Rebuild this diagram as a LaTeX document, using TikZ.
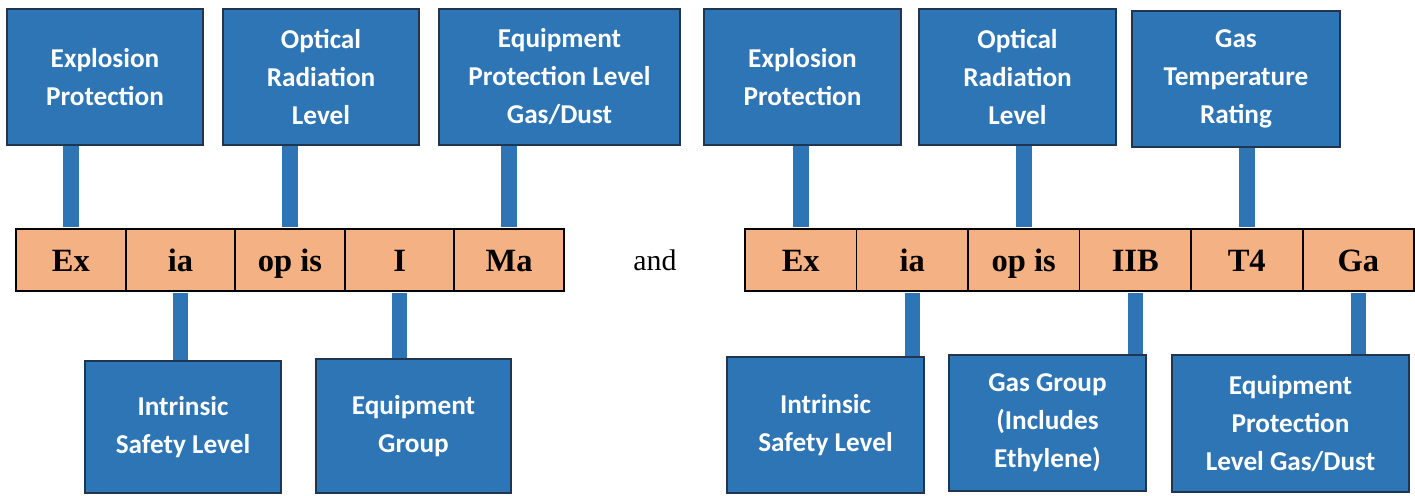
\documentclass[tikz,border=0pt]{standalone}
\usepackage{fontspec}
\setmainfont{Liberation Serif}
\newfontfamily\boxfont{Carlito}
\definecolor{boxblue}{HTML}{2E75B6}
\definecolor{boxline}{HTML}{1F3550}
\definecolor{cellorange}{HTML}{F4B183}
\tikzset{
  labelbox/.style={draw=boxline, line width=0.8pt, fill=boxblue, text=white,
    align=center, minimum width=3.92cm, minimum height=2.72cm, inner sep=0pt,
    font=\boxfont\bfseries\fontsize{15.5}{21.6}\selectfont},
  codecell/.style={draw=black, line width=1.1pt, fill=cellorange,
    minimum height=1.24cm, inner sep=0pt, text height=0.44cm, text depth=0cm,
    font=\bfseries\fontsize{18.5}{20}\selectfont},
  link/.style={boxblue, line width=0.31cm, shorten <=0.6pt}
}

\begin{document}
\begin{tikzpicture}[x=0.02cm, y=-0.02cm]
        \useasboundingbox (0,0) rectangle (1415,495);
        % first marking
        \foreach \lbl [count=\i] in {Ex,ia,op is,I,Ma}
          \node[codecell, minimum width=2.192cm] (l\i) at ({16+109.6*(\i-0.5)},260) {\lbl};
        \node[labelbox] (explA) at (105,77) {Explosion\\Protection};
        \node[labelbox] (optA) at (321,77) {Optical\\Radiation\\Level};
        \node[labelbox, minimum width=4.82cm] (eplA) at (559.5,77) {Equipment\\Protection Level\\Gas/Dust};
        \node[labelbox, minimum height=2.64cm] (intrA) at (183,427) {Intrinsic\\Safety Level};
        \node[labelbox, minimum width=3.9cm, minimum height=2.68cm] (grpA) at (413.5,426) {Equipment\\Group};
        \draw[link] (l1.north) -- (l1.north |- explA.south);
        \draw[link] (l3.north) -- (l3.north |- optA.south);
        \draw[link] (l5.north) -- (l5.north |- eplA.south);
        \draw[link] (l2.south) -- (l2.south |- intrA.north);
        \draw[link] (l4.south) -- (l4.south |- grpA.north);

        \node[font=\fontsize{17}{20}\selectfont] (and) at (655,260) {and};

        % second marking
        \foreach \lbl [count=\i] in {Ex,ia,op is,IIB,T4,Ga}
          \node[codecell, minimum width=2.23cm] (r\i) at ({745+111.5*(\i-0.5)},260) {\lbl};
        \node[labelbox, minimum width=3.94cm] (explB) at (802.5,77) {Explosion\\Protection};
        \node[labelbox, minimum width=3.94cm] (optB) at (1017.5,77) {Optical\\Radiation\\Level};
        \node[labelbox, minimum width=4.16cm] (tempB) at (1236,79) {Gas\\Temperature\\Rating};
        \node[labelbox, minimum width=3.94cm] (intrB) at (825.5,425) {Intrinsic\\Safety Level};
        \node[labelbox, minimum width=3.94cm] (gasB) at (1047.5,423) {Gas Group\\(Includes\\Ethylene)};
        \node[labelbox, minimum width=4.74cm, minimum height=2.74cm] (eplB) at (1290.5,423.5) {Equipment\\Protection\\Level Gas/Dust};
        \draw[link] (r1.north) -- (r1.north |- explB.south);
        \draw[link] (r3.north) -- (r3.north |- optB.south);
        \draw[link] (r5.north) -- (r5.north |- tempB.south);
        \draw[link] (r2.south) -- (r2.south |- intrB.north);
        \draw[link] (r4.south) -- (r4.south |- gasB.north);
        \draw[link] (r6.south) -- (r6.south |- eplB.north);
\end{tikzpicture}
\end{document}
